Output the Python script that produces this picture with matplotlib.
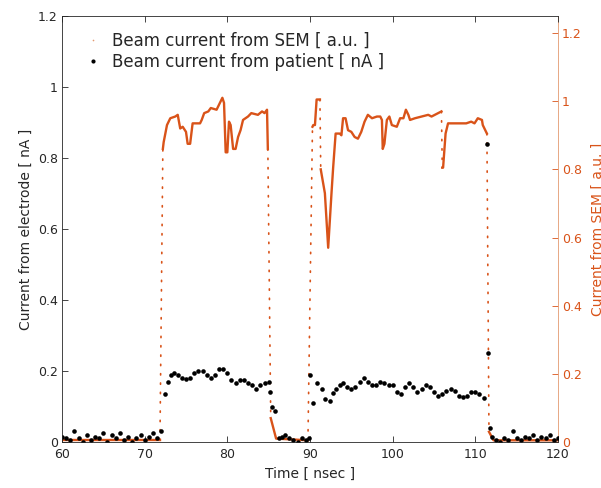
import matplotlib
matplotlib.use('Agg')
import matplotlib.pyplot as plt
import numpy as np
from matplotlib.lines import Line2D
from matplotlib.ticker import FuncFormatter, FixedLocator

plt.rcParams['font.family'] = ['DejaVu Sans']

# ---------------- data ----------------
sem_time = [60.0, 71.85, 72.2, 72.3, 72.7, 73.1, 73.7, 74.0, 74.3, 74.6, 75.0, 75.2,
            75.5, 75.8, 76.7, 76.9, 77.2, 77.7, 78.0, 78.7, 79.0, 79.4, 79.6, 79.8,
            80.0, 80.2, 80.4, 80.7, 81.0, 81.3, 81.6, 81.9, 82.5, 82.9, 83.7, 84.2,
            84.5, 84.8, 84.9, 85.25, 85.9, 89.75, 90.3, 90.4, 90.6, 90.8, 91.2, 91.3,
            91.8, 92.2, 92.6, 92.8, 93.1, 93.6, 93.8, 94.0, 94.3, 94.6, 95.0, 95.4,
            95.8, 96.2, 96.6, 97.0, 97.5, 98.1, 98.5, 98.7, 98.8, 99.0, 99.3, 99.6,
            99.9, 100.5, 100.9, 101.3, 101.6, 101.9, 102.1, 102.7, 103.5, 104.3,
            104.7, 105.5, 105.9, 106.0, 106.1, 106.4, 106.7, 107.3, 108.1, 108.9,
            109.5, 109.9, 110.3, 110.8, 110.9, 111.4, 111.65, 112.2, 120.0]
sem_value = [0.005, 0.005, 0.86, 0.88, 0.93, 0.95, 0.955, 0.96, 0.92, 0.925, 0.91, 0.875,
             0.875, 0.935, 0.935, 0.945, 0.965, 0.97, 0.98, 0.975, 0.99, 1.01, 0.995, 0.85,
             0.85, 0.94, 0.93, 0.86, 0.86, 0.895, 0.915, 0.945, 0.955, 0.965, 0.96, 0.97,
             0.965, 0.975, 0.86, 0.07, 0.01, 0.005, 0.925, 0.93, 0.93, 1.005, 1.005, 0.80,
             0.73, 0.57, 0.73, 0.805, 0.905, 0.905, 0.9, 0.95, 0.95, 0.915, 0.91, 0.895,
             0.89, 0.91, 0.94, 0.96, 0.95, 0.955, 0.955, 0.945, 0.86, 0.875, 0.945, 0.955,
             0.93, 0.925, 0.95, 0.95, 0.975, 0.96, 0.945, 0.95, 0.955, 0.96,
             0.955, 0.965, 0.97, 0.805, 0.805, 0.905, 0.935, 0.935, 0.935, 0.935,
             0.94, 0.935, 0.95, 0.945, 0.93, 0.905, 0.03, 0.005, 0.005]

patient_time = [60.0, 60.5, 61.0, 61.5, 62.0, 62.5, 63.0, 63.5, 64.0, 64.5, 65.0, 65.5,
                66.0, 66.5, 67.0, 67.5, 68.0, 68.5, 69.0, 69.5, 70.0, 70.5, 71.0, 71.5,
                72.0, 72.4, 72.8, 73.2, 73.6, 74.0, 74.5, 75.0, 75.5, 76.0, 76.5, 77.0,
                77.5, 78.0, 78.5, 79.0, 79.5, 80.0, 80.5, 81.0, 81.5, 82.0, 82.5, 83.0,
                83.5, 84.0, 84.5, 85.0, 85.15, 85.4, 85.8,
                86.2, 86.6, 87.0, 87.5, 88.0, 88.5, 89.0, 89.5, 89.9,
                90.05, 90.4, 90.8, 91.4, 91.8, 92.4, 92.8, 93.2, 93.6, 94.0, 94.5, 95.0,
                95.5, 96.0, 96.5, 97.0, 97.5, 98.0, 98.5, 99.0, 99.5, 100.0, 100.5, 101.0,
                101.5, 102.0, 102.5, 103.0, 103.5, 104.0, 104.5, 105.0, 105.5, 106.0,
                106.5, 107.0, 107.5, 108.0, 108.5, 109.0, 109.5, 110.0, 110.5, 111.0,
                111.45, 111.55, 111.8,
                112.0, 112.5, 113.0, 113.5, 114.0, 114.5, 115.0, 115.5, 116.0, 116.5,
                117.0, 117.5, 118.0, 118.5, 119.0, 119.5, 120.0]
patient_current = [0.015, 0.01, 0.005, 0.03, 0.01, 0.0, 0.02, 0.005, 0.015, 0.01, 0.025, 0.0,
                   0.02, 0.01, 0.025, 0.005, 0.015, 0.0, 0.01, 0.02, 0.005, 0.015, 0.025, 0.01,
                   0.03, 0.135, 0.17, 0.19, 0.195, 0.19, 0.18, 0.177, 0.18, 0.195, 0.2, 0.2,
                   0.19, 0.18, 0.19, 0.205, 0.205, 0.195, 0.175, 0.165, 0.175, 0.175, 0.165, 0.16,
                   0.15, 0.16, 0.165, 0.17, 0.14, 0.1, 0.087,
                   0.01, 0.015, 0.02, 0.01, 0.005, 0.0, 0.01, 0.005, 0.01,
                   0.19, 0.11, 0.165, 0.15, 0.12, 0.115, 0.137, 0.15, 0.16, 0.165, 0.155, 0.15,
                   0.155, 0.17, 0.18, 0.17, 0.16, 0.16, 0.17, 0.165, 0.16, 0.16, 0.14, 0.135,
                   0.155, 0.165, 0.155, 0.14, 0.15, 0.16, 0.155, 0.14, 0.13, 0.135,
                   0.145, 0.15, 0.145, 0.13, 0.127, 0.13, 0.14, 0.14, 0.135, 0.125,
                   0.84, 0.25, 0.04,
                   0.015, 0.005, 0.0, 0.01, 0.005, 0.03, 0.01, 0.005, 0.015, 0.01,
                   0.02, 0.005, 0.015, 0.01, 0.02, 0.005, 0.01]

x_ticks = [60, 70, 80, 90, 100, 110, 120]
y_ticks = [0, 0.2, 0.4, 0.6, 0.8, 1.0, 1.2]
legend_labels = ['Beam current from SEM [ a.u. ]', 'Beam current from patient [ nA ]']

# ---------------- style ----------------
ORANGE = '#D95319'
ORANGE_LIGHT = '#E39A70'
DARK = '#262626'

fig = plt.figure(figsize=(6.01, 4.88), dpi=100)
ax = fig.add_axes([62 / 601, 1 - 442 / 488, 496 / 601, 426 / 488])
ax2 = ax.twinx()
ax.set_zorder(ax2.get_zorder() + 1)
ax.patch.set_visible(False)

# SEM trace on right axis: solid where it changes slowly, dotted on steep edges
t = np.array(sem_time)
v = np.array(sem_value)
steep = np.abs(np.diff(v) / np.diff(t)) > 1.5
run = [0]
for i in range(len(t) - 1):
    if steep[i]:
        if len(run) > 1:
            ax2.plot(t[run], v[run], color=ORANGE, lw=1.7, solid_joinstyle='round')
        ax2.plot(t[i:i + 2], v[i:i + 2], color=ORANGE, lw=1.2,
                 linestyle=(0, (0.8, 4.8)), dash_capstyle='round')
        run = [i + 1]
    else:
        run.append(i + 1)
if len(run) > 1:
    ax2.plot(t[run], v[run], color=ORANGE, lw=1.7, solid_joinstyle='round')

# Patient trace on left axis
ax.plot(patient_time, patient_current, linestyle='none', marker='o', ms=3.3,
        mew=0, color='black')

# axes limits / ticks
ax.set_xlim(60, 120)
ax.set_ylim(0, 1.2)
ax2.set_ylim(0, 1.25)
fmt = FuncFormatter(lambda val, pos: '%g' % round(val, 2))
ax.xaxis.set_major_locator(FixedLocator(x_ticks))
ax.yaxis.set_major_locator(FixedLocator(y_ticks))
ax2.yaxis.set_major_locator(FixedLocator(y_ticks))
ax.yaxis.set_major_formatter(fmt)
ax2.yaxis.set_major_formatter(fmt)

ax.tick_params(axis='x', direction='in', length=4, width=0.6, colors=DARK,
               labelsize=9, top=True, pad=4)
ax.tick_params(axis='y', direction='in', length=4, width=0.6, colors=DARK,
               labelsize=9, right=False, pad=3)
ax2.tick_params(axis='y', direction='in', length=4, width=0.6, colors=ORANGE,
                labelsize=9, pad=3)
for lab in ax2.get_yticklabels():
    lab.set_color(ORANGE)

for name in ['left', 'bottom', 'top']:
    ax.spines[name].set_color(DARK)
    ax.spines[name].set_linewidth(0.6)
ax.spines['right'].set_visible(False)
for name in ['left', 'bottom', 'top']:
    ax2.spines[name].set_visible(False)
ax2.spines['right'].set_color(ORANGE_LIGHT)
ax2.spines['right'].set_linewidth(0.6)

ax.set_xlabel('Time [ nsec ]', fontsize=10, color=DARK)
ax.xaxis.set_label_coords(0.5, -0.059)
ax.set_ylabel('Current from electrode [ nA ]', fontsize=10, color=DARK)
ax.yaxis.set_label_coords(-0.058, 0.5)
ax2.set_ylabel('Current from SEM [ a.u. ]', fontsize=10, color=ORANGE)
ax2.yaxis.set_label_coords(1.066, 0.5)

handles = [Line2D([], [], linestyle='none', marker='o', ms=1.2, mew=0, color=ORANGE_LIGHT),
           Line2D([], [], linestyle='none', marker='o', ms=3.0, mew=0, color='black')]
ax.legend(handles, legend_labels, loc='upper left', bbox_to_anchor=(0.049, 0.962),
          frameon=False, fontsize=12, handlelength=0.8, handletextpad=0.74,
          borderpad=0, borderaxespad=0, labelspacing=0.18, labelcolor=DARK)

fig.savefig('out.png', dpi=100)
